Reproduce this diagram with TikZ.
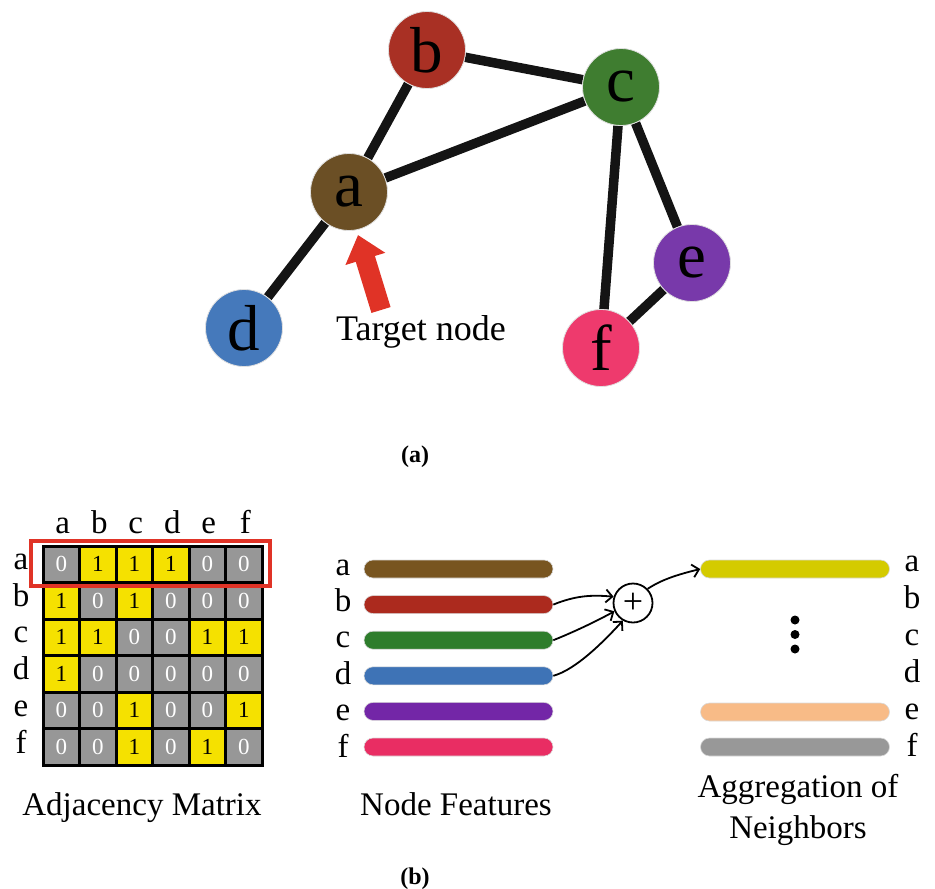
\documentclass[tikz,border=0pt]{standalone}
\usepackage{fontspec}
\setmainfont{Liberation Serif}
\usetikzlibrary{arrows.meta}
\definecolor{ga}{HTML}{6B4F25}
\definecolor{gb}{HTML}{A93024}
\definecolor{gc}{HTML}{3F7D30}
\definecolor{gd}{HTML}{4579BB}
\definecolor{ge}{HTML}{7839AA}
\definecolor{gf}{HTML}{EE3A6D}
\definecolor{fa}{HTML}{785520}
\definecolor{fb}{HTML}{AC2A1E}
\definecolor{fc}{HTML}{2E7D2C}
\definecolor{fd}{HTML}{3E73B6}
\definecolor{fe}{HTML}{7326A7}
\definecolor{ff}{HTML}{E92D63}
\definecolor{aga}{HTML}{D4CB00}
\definecolor{age}{HTML}{F8BB87}
\definecolor{agf}{HTML}{989898}
\definecolor{edgeblk}{HTML}{141414}
\definecolor{tred}{HTML}{E03326}
\definecolor{cgray}{HTML}{979797}
\definecolor{cyel}{HTML}{F5E100}
\pgfdeclarelayer{bg}
\pgfsetlayers{bg,main}
\begin{document}
\begin{tikzpicture}[x=1pt,y=-1pt,
  gnode/.style={circle, minimum size=77pt, inner sep=0pt, draw=black!12, line width=0.8pt, font=\fontsize{65}{65}\selectfont},
  gedge/.style={line width=9.5pt, draw=edgeblk},
  mcell/.style={rectangle, minimum size=36.5pt, inner sep=0pt, draw=black, line width=3pt, font=\fontsize{23}{23}\selectfont},
  m0/.style={mcell, fill=cgray, text=white},
  m1/.style={mcell, fill=cyel, text=black},
  lbl/.style={anchor=base, inner sep=0pt, font=\fontsize{33}{33}\selectfont},
  captxt/.style={anchor=base, inner sep=0pt, font=\fontsize{33}{33}\selectfont},
  fbar/.style={rectangle, rounded corners=9pt, minimum width=189pt, minimum height=18pt, inner sep=0pt, draw=black!15, line width=0.6pt},
  conn/.style={-{Straight Barb[length=6.5pt,width=13pt]}, line width=1.8pt},
  dotnode/.style={circle, fill=black, minimum size=9pt, inner sep=0pt},
  redbox/.style={draw=tred, line width=3.4pt},
  tarrow/.style={draw=tred, line width=20pt, -{Triangle[width=40pt,length=25pt]}},
  sublbl/.style={anchor=base, inner sep=0pt, font=\fontsize{24}{24}\selectfont\bfseries}
]
\useasboundingbox (0,0) rectangle (935,889);

% ---------- (a) graph ----------
\node[gnode, fill=ga] (a) at (349,192) {a};
\node[gnode, fill=gb] (b) at (427,50) {b};
\node[gnode, fill=gc] (c) at (621,87) {c};
\node[gnode, fill=gd] (d) at (244,328) {d};
\node[gnode, fill=ge] (e) at (692,263) {e};
\node[gnode, fill=gf] (f) at (601,348) {f};
\begin{pgfonlayer}{bg}
\draw[gedge] (a) -- (b);
\draw[gedge] (b) -- (c);
\draw[gedge] (a) -- (c);
\draw[gedge] (a) -- (d);
\draw[gedge] (c) -- (f);
\draw[gedge] (c) -- (e);
\draw[gedge] (e) -- (f);
\end{pgfonlayer}
\coordinate (tbase) at (381,310);
\coordinate (ttip) at (358,235);
\draw[tarrow] (tbase) -- (ttip);
\node[anchor=base, inner sep=0pt, font=\fontsize{36}{36}\selectfont] (tgt) at (421,340) {Target node};
\node[sublbl] (suba) at (415,462) {(a)};

% ---------- adjacency matrix ----------
\foreach \v [count=\c] in {0,1,1,1,0,0} \node[m\v] (m-1-\c) at ({24.75+36.5*\c},564.25) {\v};
\foreach \v [count=\c] in {1,0,1,0,0,0} \node[m\v] (m-2-\c) at ({24.75+36.5*\c},600.75) {\v};
\foreach \v [count=\c] in {1,1,0,0,1,1} \node[m\v] (m-3-\c) at ({24.75+36.5*\c},637.25) {\v};
\foreach \v [count=\c] in {1,0,0,0,0,0} \node[m\v] (m-4-\c) at ({24.75+36.5*\c},673.75) {\v};
\foreach \v [count=\c] in {0,0,1,0,0,1} \node[m\v] (m-5-\c) at ({24.75+36.5*\c},710.25) {\v};
\foreach \v [count=\c] in {0,0,1,0,1,0} \node[m\v] (m-6-\c) at ({24.75+36.5*\c},746.75) {\v};
\foreach \l [count=\c] in {a,b,c,d,e,f} {
  \node[lbl] (col\l) at ({26.25+36.5*\c},533) {\l};
  \node[lbl] (row\l) at (21,{532.8+36.7*\c}) {\l};
}
\draw[redbox] (31,541) rectangle (270,586);
\node[captxt] (capA) at (142,815) {Adjacency Matrix};

% ---------- node features ----------
\foreach \l/\col [count=\i] in {a/fa,b/fb,c/fc,d/fd,e/fe,f/ff} {
  \node[fbar, fill=\col] (nf\l) at (458.5,{569+35.6*(\i-1)}) {};
  \node[lbl] (nfl\l) at (343,{575+36.4*(\i-1)}) {\l};
}
\node[captxt] (capN) at (456,815) {Node Features};

% ---------- aggregation ----------
\node[circle, draw, line width=1.8pt, minimum size=39pt, inner sep=0pt, font=\fontsize{36}{36}\selectfont] (plus) at (633,603) {+};
\node[fbar, fill=aga] (aga) at (795,569) {};
\node[fbar, fill=age] (age) at (795,712) {};
\node[fbar, fill=agf] (agf) at (795,747) {};
\node[dotnode] (dot1) at (795,620) {};
\node[dotnode] (dot2) at (795,634.5) {};
\node[dotnode] (dot3) at (795,649) {};
\foreach \l [count=\i] in {a,b,c,d,e,f} {
  \node[lbl] (agl\l) at (912,{571.5+37*(\i-1)}) {\l};
}
\draw[conn] (nfb.east) .. controls +(22,-9) and +(-22,-2) .. (plus.162);
\draw[conn] (nfc.east) .. controls +(20,-8) and +(-18,10) .. (plus.204);
\draw[conn] (nfd.east) .. controls +(22,-6) and +(-20,22) .. (plus.240);
\draw[conn] (plus.44) .. controls +(15,-10) and +(-20,5) .. (aga.west);
\node[captxt] (capG1) at (798,797) {Aggregation of};
\node[captxt] (capG2) at (798,838) {Neighbors};
\node[sublbl] (subb) at (415,884) {(b)};
\end{tikzpicture}
\end{document}
